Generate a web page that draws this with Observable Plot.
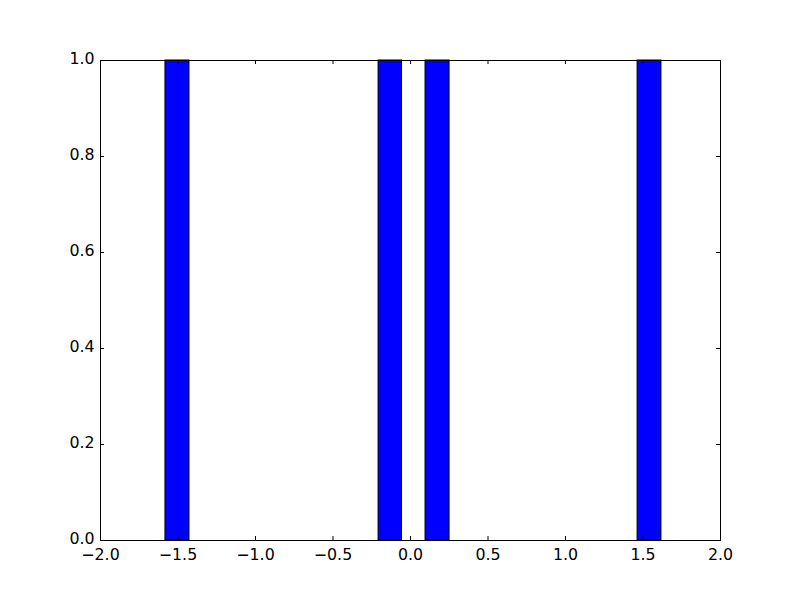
<!DOCTYPE html>
<html>
<head>
<meta charset="utf-8">
<script src="https://cdn.jsdelivr.net/npm/d3@7"></script>
<script src="https://cdn.jsdelivr.net/npm/@observablehq/plot@0.6"></script>
<style>
  html, body { margin: 0; padding: 0; background: #ffffff; }
  #chart { width: 800px; height: 600px; }
</style>
</head>
<body>
<div id="chart"></div>
<script>
// Histogram bins (left edge, right edge) and counts
const binStart = [-1.581, -0.206, 0.097, 1.465];
const binEnd   = [-1.426, -0.055, 0.252, 1.619];
const counts   = [1, 1, 1, 1];

const xTicks = [-2.0, -1.5, -1.0, -0.5, 0.0, 0.5, 1.0, 1.5, 2.0];
const yTicks = [0.0, 0.2, 0.4, 0.6, 0.8, 1.0];

const bins = binStart.map((s, i) => ({x1: s, x2: binEnd[i], y: counts[i]}));

const W = 800, H = 600;
const mL = 100, mR = 80, mT = 60, mB = 60;
const innerW = W - mL - mR, innerH = H - mT - mB;
const tickLen = 4;
const fmt = d3.format(".1f");
const FS = 15.8;

const chart = Plot.plot({
  width: W,
  height: H,
  marginLeft: mL,
  marginRight: mR,
  marginTop: mT,
  marginBottom: mB,
  style: {fontFamily: "DejaVu Sans", fontSize: FS + "px", color: "#000", background: "#fff"},
  x: {domain: [-2, 2]},
  y: {domain: [0, 1]},
  marks: [
    Plot.rectY(bins, {x1: "x1", x2: "x2", y: "y", fill: "#0000ff", stroke: "#000000", strokeWidth: 1}),
    // inward ticks: bottom & top
    Plot.ruleX(xTicks, {x: d => d, insetTop: innerH - tickLen, stroke: "#000"}),
    Plot.ruleX(xTicks, {x: d => d, insetBottom: innerH - tickLen, stroke: "#000"}),
    // inward ticks: left & right
    Plot.ruleY(yTicks, {y: d => d, insetRight: innerW - tickLen, stroke: "#000"}),
    Plot.ruleY(yTicks, {y: d => d, insetLeft: innerW - tickLen, stroke: "#000"}),
    Plot.frame({stroke: "#000", strokeWidth: 1}),
    Plot.axisX(xTicks, {tickSize: 0, tickPadding: 8, tickFormat: fmt, label: null, fontSize: FS, fill: "#000"}),
    Plot.axisY(yTicks, {tickSize: 0, tickPadding: 6, dy: -2, tickFormat: fmt, label: null, fontSize: FS, fill: "#000"})
  ]
});
document.getElementById("chart").appendChild(chart);
</script>
</body>
</html>
